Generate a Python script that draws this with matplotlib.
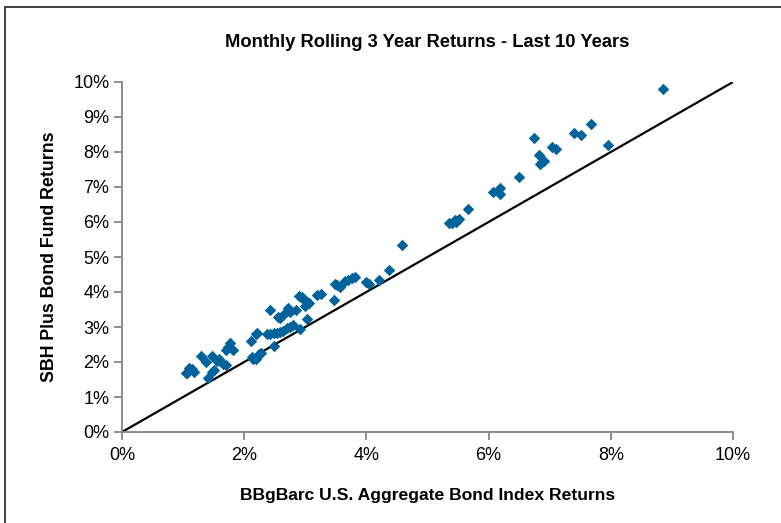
import matplotlib.pyplot as plt
from matplotlib.patches import Rectangle
from matplotlib.ticker import FuncFormatter

plt.rcParams['font.family'] = ['Liberation Sans', 'DejaVu Sans']

# index returns (x) and fund returns (y), in %
index_ret = [8.86, 7.67, 7.39, 7.51, 6.75, 7.96, 7.04, 7.11, 6.82, 6.91, 6.84, 6.88,
             6.50, 6.18, 6.07, 6.18, 5.67, 5.40, 5.45, 5.52, 5.47, 5.36, 4.58, 4.37,
             4.21, 4.00, 4.05, 3.82, 3.76, 3.70, 3.65, 3.57, 3.52, 3.49, 3.47, 3.25,
             3.19, 3.02, 3.06, 3.00, 2.98, 2.94, 2.90, 3.02, 2.91, 2.85, 2.75, 2.72,
             2.67, 2.59, 2.56, 2.42, 2.80, 2.75, 2.70, 2.64, 2.59, 2.53, 2.48, 2.42,
             2.37, 2.49, 2.27, 2.24, 2.21, 2.19, 2.11, 2.20, 2.15, 2.12, 1.82, 1.74,
             1.77, 1.70, 1.70, 1.65, 1.59, 1.55, 1.48, 1.51, 1.48, 1.41, 1.37, 1.30,
             1.18, 1.14, 1.10, 1.07, 1.05]
fund_ret = [9.79, 8.79, 8.55, 8.48, 8.39, 8.20, 8.15, 8.09, 7.91, 7.74, 7.65, 7.71,
            7.29, 6.96, 6.85, 6.80, 6.37, 5.96, 6.06, 6.08, 6.01, 5.96, 5.34, 4.63,
            4.34, 4.29, 4.23, 4.44, 4.39, 4.34, 4.31, 4.15, 4.20, 4.23, 3.77, 3.93,
            3.91, 3.72, 3.68, 3.60, 3.77, 3.85, 3.89, 3.22, 2.93, 3.49, 3.44, 3.53,
            3.41, 3.25, 3.29, 3.50, 3.06, 3.01, 2.96, 2.89, 2.87, 2.84, 2.82, 2.80,
            2.79, 2.47, 2.27, 2.22, 2.84, 2.80, 2.60, 2.10, 2.09, 2.15, 2.34, 2.42,
            2.55, 2.34, 1.91, 1.94, 2.10, 2.04, 2.17, 1.77, 1.72, 1.53, 1.99, 2.18,
            1.72, 1.79, 1.84, 1.68, 1.70]

xticks = [0, 2, 4, 6, 8, 10]
yticks = [0, 1, 2, 3, 4, 5, 6, 7, 8, 9, 10]

fig = plt.figure(figsize=(7.81, 5.23), dpi=100)
ax = fig.add_axes([122/781, 1 - 432/523, (733 - 122)/781, (432 - 82)/523])

ax.plot([0, 10], [0, 10], color='black', lw=1.6, zorder=2)
ax.scatter(index_ret, fund_ret, marker='D', s=34, color='#00629B', lw=0, zorder=3)

ax.set_xlim(0, 10)
ax.set_ylim(0, 10)
ax.set_xticks(xticks)
ax.set_yticks(yticks)
pct = FuncFormatter(lambda v, p: '%d%%' % v)
ax.xaxis.set_major_formatter(pct)
ax.yaxis.set_major_formatter(pct)

for s in ['top', 'right']:
    ax.spines[s].set_visible(False)
for s in ['left', 'bottom']:
    ax.spines[s].set_color('#868686')
    ax.spines[s].set_linewidth(1.3)
ax.tick_params(colors='#868686', labelcolor='black', labelsize=13, length=6, width=1.3, direction='out')
ax.tick_params(axis='x', pad=5)
ax.tick_params(axis='y', pad=3)

ax.set_title('Monthly Rolling 3 Year Returns - Last 10 Years', fontsize=13.2,
             fontweight='bold', pad=25)
ax.set_xlabel('BBgBarc U.S. Aggregate Bond Index Returns', fontsize=12.6,
              fontweight='bold', labelpad=17)
ax.set_ylabel('SBH Plus Bond Fund Returns', fontsize=12.8, fontweight='bold', labelpad=11)

# outer frame (only left and top edges visible in the crop)
fig.patches.append(Rectangle((5/781, -0.1), 1.2, 1.1 - 7/523, transform=fig.transFigure,
                             fill=False, edgecolor='#333333', lw=1.3))

fig.savefig('out.png', dpi=100)
